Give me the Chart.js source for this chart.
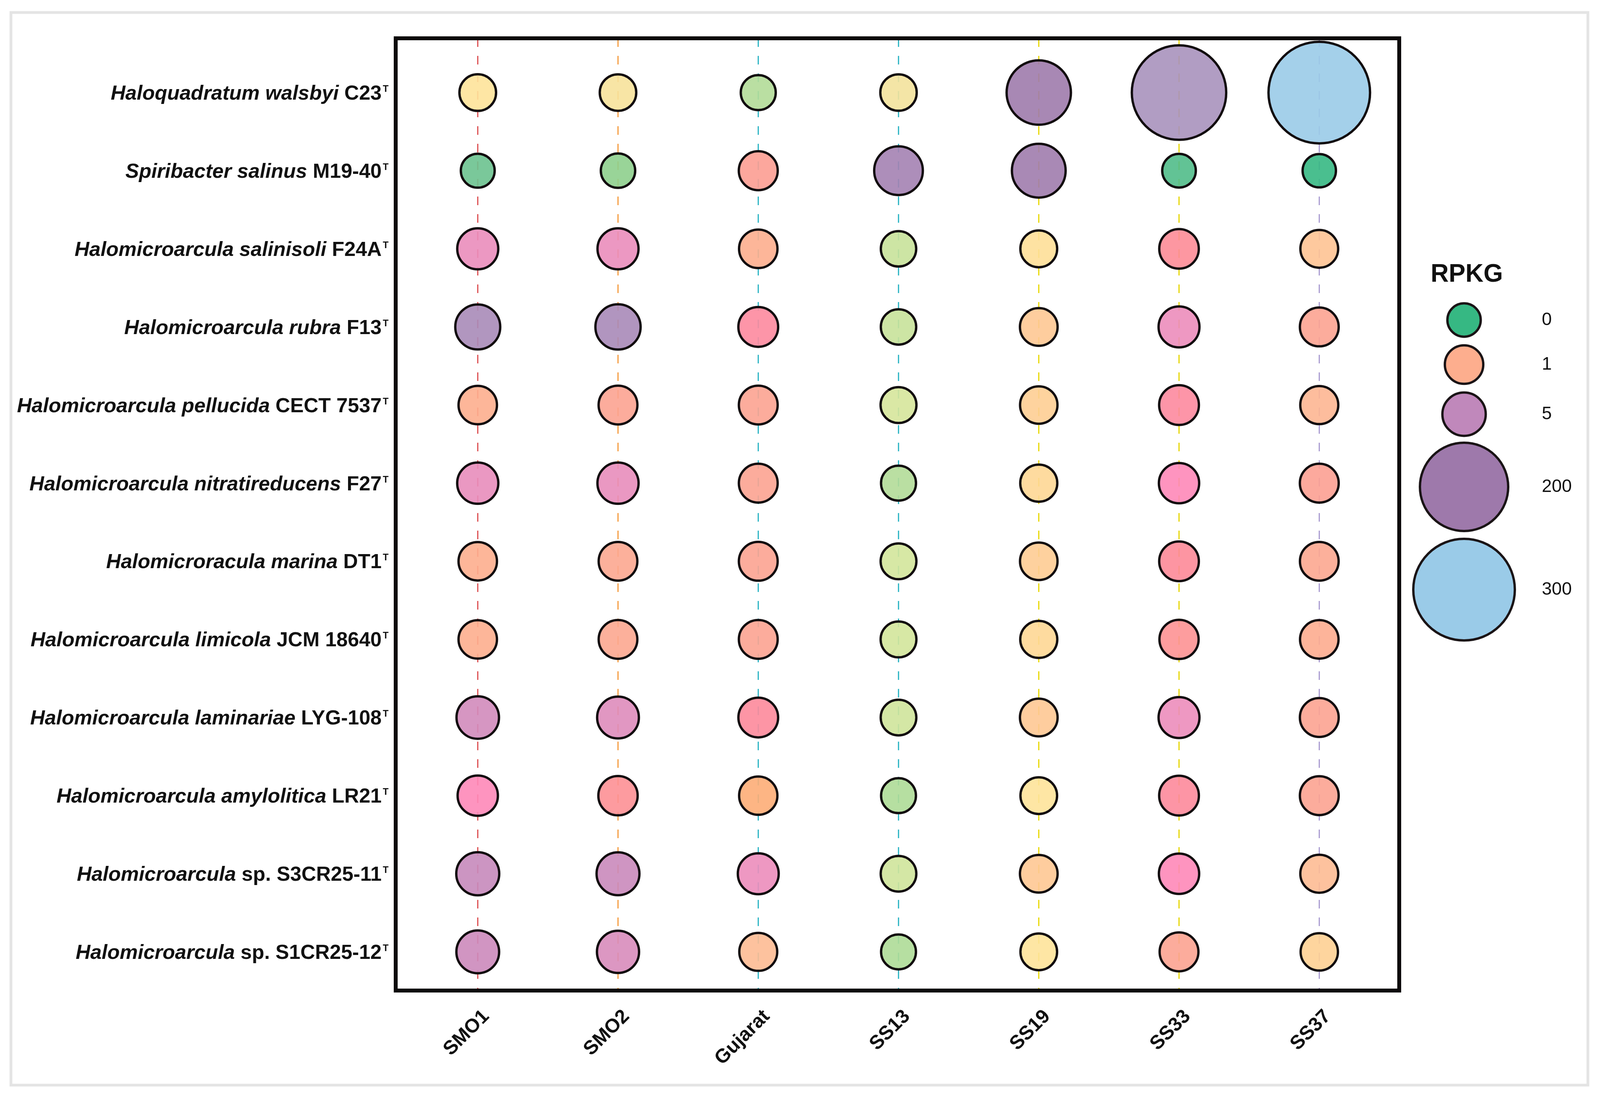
<!DOCTYPE html>
<html>
<head>
<meta charset="utf-8">
<script src="https://cdn.jsdelivr.net/npm/chart.js@4.4.0/dist/chart.umd.min.js"></script>
<style>
    html, body { margin: 0; padding: 0; background: #fff; }
    #wrap { width: 4102px; height: 2810px; }
</style>
</head>
<body>
<div id="wrap"><canvas id="chart" width="4102" height="2810" style="width:4102px;height:2810px;"></canvas></div>
<script>
// ---- data ----
const samples = ['SMO1', 'SMO2', 'Gujarat', 'SS13', 'SS19', 'SS33', 'SS37'];

const taxaName = [
    'Haloquadratum walsbyi', 'Spiribacter salinus', 'Halomicroarcula salinisoli',
    'Halomicroarcula rubra', 'Halomicroarcula pellucida', 'Halomicroarcula nitratireducens',
    'Halomicroracula marina', 'Halomicroarcula limicola', 'Halomicroarcula laminariae',
    'Halomicroarcula amylolitica', 'Halomicroarcula', 'Halomicroarcula'
];
const taxaStrain = [
    'C23', 'M19-40', 'F24A', 'F13', 'CECT 7537', 'F27',
    'DT1', 'JCM 18640', 'LYG-108', 'LR21', 'sp. S3CR25-11', 'sp. S1CR25-12'
];

// RPKG per sample, in taxa order
const rpkgSMO1    = [0.65, 0.1, 3.1, 12, 1.0, 3.2, 1.0, 1.0, 4.3, 2.5, 4.7, 4.5];
const rpkgSMO2    = [0.62, 0.2, 3.1, 13, 1.3, 3.2, 1.2, 1.2, 3.7, 1.7, 4.6, 4.0];
const rpkgGujarat = [0.32, 1.4, 1.0, 2.1, 1.3, 1.3, 1.3, 1.3, 2.05, 0.97, 3.0, 0.9];
const rpkgSS13    = [0.6, 28, 0.4, 0.4, 0.5, 0.32, 0.48, 0.48, 0.45, 0.3, 0.45, 0.3];
const rpkgSS19    = [96, 50, 0.68, 0.85, 0.8, 0.73, 0.82, 0.73, 0.85, 0.65, 0.85, 0.65];
const rpkgSS33    = [246, 0.05, 1.9, 3.0, 2.1, 2.5, 2.0, 1.6, 3.0, 2.05, 2.5, 1.3];
const rpkgSS37    = [300, 0, 0.87, 1.3, 0.92, 1.35, 1.2, 1.05, 1.3, 1.3, 0.9, 0.78];
const rpkgBySample = [rpkgSMO1, rpkgSMO2, rpkgGujarat, rpkgSS13, rpkgSS19, rpkgSS33, rpkgSS37];

const legendValues = [0, 1, 5, 200, 300];

// ---- scales (style) ----
const colourStopValues = [0, 0.1, 0.2, 0.3, 0.4, 0.5, 0.6, 0.65, 0.75, 0.85, 0.92, 0.97, 1, 1.3, 1.6, 2, 2.5, 3, 4, 5, 12, 40, 200, 250, 300];
const colourStopHex = ['#36b883', '#6cc28f', '#8ecf8d', '#aedb97', '#c8e29a', '#d6e69b', '#f3e29c', '#fee39a',
    '#fed494', '#fec894', '#fdb692', '#fdad77', '#fdae8e', '#fca391', '#fd9294', '#fd8a98', '#fe88b8',
    '#ec8dbb', '#d88cbb', '#c088bb', '#a98bb8', '#a07cad', '#9e79ab', '#a994bf', '#9acbe8'];
const sizeStopValues = [0, 1, 5, 200, 300];
const sizeStopRadii = [45.7, 52.2, 58.5, 116, 133];
const lineColours = ['#dc4a4c', '#f59a3b', '#25b2c2', '#25b2c2', '#e8d800', '#e6d600', '#a89ad0'];
const FONT = '"Liberation Sans", Arial, Helvetica, sans-serif';
const BORDER_W = 6;

const segment = (stops, v) => {
    if (v <= stops[0]) return [0, 0];
    for (let i = 1; i < stops.length; i++) {
        if (v <= stops[i]) return [i - 1, (v - stops[i - 1]) / (stops[i] - stops[i - 1])];
    }
    return [stops.length - 2, 1];
};
const hexToRgb = (h) => [1, 3, 5].map(i => parseInt(h.substr(i, 2), 16));
const colourFor = (v, alpha) => {
    const [i, t] = segment(colourStopValues, v);
    const a = hexToRgb(colourStopHex[i]), b = hexToRgb(colourStopHex[i + 1]);
    const c = a.map((x, k) => Math.round(x + (b[k] - x) * t));
    return `rgba(${c[0]}, ${c[1]}, ${c[2]}, ${alpha})`;
};
const radiusFor = (v) => {
    const [i, t] = segment(sizeStopValues, v);
    return sizeStopRadii[i] + (sizeStopRadii[i + 1] - sizeStopRadii[i]) * t - BORDER_W / 2;
};

const Y_MIN = -0.695, Y_MAX = 11.495;

const bubblePoints = [];
rpkgBySample.forEach((col, xi) => {
    col.forEach((v, yi) => bubblePoints.push({ x: xi, y: yi, r: radiusFor(v), v: v }));
});

const lineSets = samples.map((s, i) => ({
    type: 'line',
    label: s,
    data: [{ x: i, y: Y_MIN }, { x: i, y: Y_MAX }],
    borderColor: lineColours[i],
    borderWidth: 3,
    borderDash: [22, 23],
    pointRadius: 0,
    order: 2
}));

const decorations = {
    id: 'decorations',
    beforeDraw(chart) {
        const ctx = chart.ctx;
        ctx.save();
        ctx.fillStyle = '#fff';
        ctx.fillRect(0, 0, chart.width, chart.height);
        ctx.strokeStyle = '#e4e4e4';
        ctx.lineWidth = 7;
        ctx.strokeRect(28, 32, 4037, 2745);
        ctx.restore();
    },
    afterDraw(chart) {
        const ctx = chart.ctx;
        const area = chart.chartArea;
        const xs = chart.scales.x, ys = chart.scales.y;
        ctx.save();

        // plot frame
        ctx.strokeStyle = '#0d0a0b';
        ctx.lineWidth = 10;
        ctx.strokeRect(area.left, area.top, area.right - area.left, area.bottom - area.top);

        // taxa labels
        ctx.fillStyle = '#111';
        ctx.textBaseline = 'alphabetic';
        taxaName.forEach((name, i) => {
            const y = ys.getPixelForValue(i);
            const right = area.left - 36;
            ctx.font = `bold 52px ${FONT}`;
            const strain = ' ' + taxaStrain[i];
            const sw = ctx.measureText(strain).width;
            ctx.textAlign = 'right';
            ctx.fillText(strain, right, y + 18);
            ctx.font = `italic bold 52px ${FONT}`;
            ctx.fillText(name, right - sw, y + 18);
            ctx.textAlign = 'left';
            ctx.font = `bold 24px ${FONT}`;
            ctx.fillText('T', right + 3, y - 2);
        });

        // sample labels
        ctx.font = `bold 50px ${FONT}`;
        ctx.textAlign = 'right';
        ctx.textBaseline = 'top';
        samples.forEach((s, i) => {
            const x = xs.getPixelForValue(i);
            ctx.save();
            ctx.translate(x + 4, 2576);
            ctx.rotate(-Math.PI / 4);
            ctx.fillText(s, 0, 0);
            ctx.restore();
        });

        // size / colour legend
        ctx.textAlign = 'center';
        ctx.textBaseline = 'middle';
        ctx.font = `bold 64px ${FONT}`;
        ctx.fillText('RPKG', 3755, 703);
        const legendY = [819, 933, 1060, 1246, 1509];
        ctx.font = `46px ${FONT}`;
        legendValues.forEach((v, i) => {
            ctx.beginPath();
            ctx.arc(3748, legendY[i], radiusFor(v), 0, Math.PI * 2);
            ctx.fillStyle = colourFor(v, 1);
            ctx.fill();
            ctx.lineWidth = BORDER_W;
            ctx.strokeStyle = '#1a1416';
            ctx.stroke();
            ctx.fillStyle = '#111';
            ctx.textAlign = 'left';
            ctx.fillText(String(v), 3947, legendY[i]);
        });
        ctx.restore();
    }
};

Chart.defaults.font.family = FONT;

new Chart(document.getElementById('chart'), {
    type: 'bubble',
    data: {
        datasets: [{
            label: 'RPKG',
            data: bubblePoints,
            backgroundColor: (c) => colourFor(c.raw ? c.raw.v : 0, 0.9),
            borderColor: '#120d0f',
            borderWidth: BORDER_W,
            clip: false,
            order: 1
        }].concat(lineSets)
    },
    options: {
        responsive: false,
        devicePixelRatio: 1,
        animation: false,
        layout: { autoPadding: false, padding: { left: 1013, right: 520, top: 98, bottom: 275 } },
        plugins: { legend: { display: false }, tooltip: { enabled: false } },
        scales: {
            x: { type: 'linear', min: -0.585, max: 6.57, display: false },
            y: { type: 'linear', min: Y_MIN, max: Y_MAX, reverse: true, display: false }
        }
    },
    plugins: [decorations]
});
</script>
</body>
</html>
